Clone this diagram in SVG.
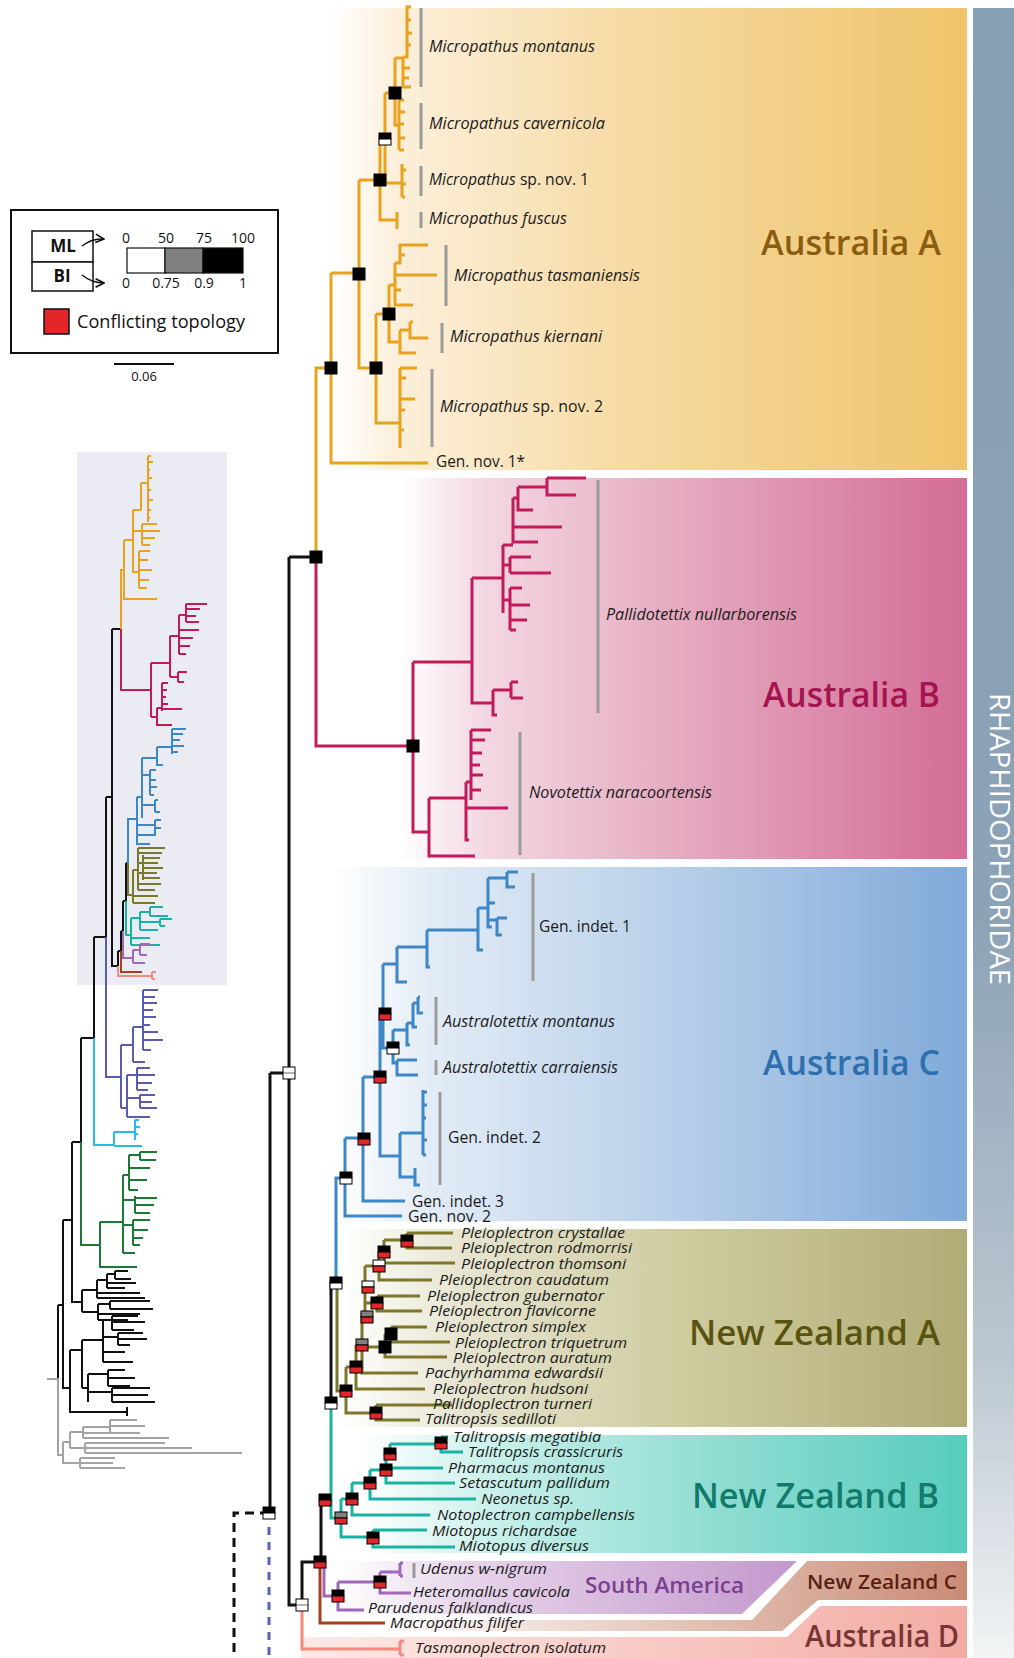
<svg xmlns="http://www.w3.org/2000/svg" xmlns:xlink="http://www.w3.org/1999/xlink" width="1014" height="1658" viewBox="0 0 1014 1658">
<defs>
<style>
.sans{font-family:"Open Sans","Liberation Sans",sans-serif}
.sp{font-family:"Open Sans","Liberation Sans",sans-serif;font-style:italic;font-size:17px;fill:#1a1a1a}
.up{font-style:normal}
.sp2{font-family:"Open Sans","Liberation Sans",sans-serif;font-style:italic;font-size:15px;fill:#1a1a1a}
.sp3{font-family:"Open Sans","Liberation Sans",sans-serif;font-style:italic;font-size:14.5px;fill:#1a1a1a}
.gn{font-family:"Open Sans","Liberation Sans",sans-serif;font-size:16.5px;fill:#1a1a1a}
.reg{font-family:"Open Sans","Liberation Sans",sans-serif;font-weight:600;font-size:35px}
.reg.sm1{font-size:22px}.reg.sm2{font-size:20px}.reg.sm3{font-size:30px}
.main path{fill:none;stroke-width:3;stroke-linejoin:miter}
.mini path{fill:none;stroke-width:2;stroke-linejoin:miter}
.o{stroke:#e9a21d}.m{stroke:#c11b5c}.c{stroke:#3d86c8}.ol{stroke:#7b782a}.t{stroke:#19b3a3}
.p{stroke:#a068b8}.bn{stroke:#a3421c}.s{stroke:#f28a80}.k{stroke:#111}.sl{stroke:#5b5cae}
.cy{stroke:#2bb8ea}.gr{stroke:#1c7a36}.gy{stroke:#a3a3a3}
.bar{stroke:#9a9a9a;stroke-width:3}
</style>
<linearGradient id="gA" x1="0" x2="1" y1="0" y2="0"><stop offset="0" stop-color="#ffffff"/><stop offset="0.1" stop-color="#fcf0dc"/><stop offset="0.45" stop-color="#f6dba6"/><stop offset="1" stop-color="#efc46a"/></linearGradient>
<linearGradient id="gB" x1="0" x2="1" y1="0" y2="0"><stop offset="0" stop-color="#ffffff"/><stop offset="0.15" stop-color="#f3d7e2"/><stop offset="0.5" stop-color="#e5a9c0"/><stop offset="1" stop-color="#d36d96"/></linearGradient>
<linearGradient id="gC" x1="0" x2="1" y1="0" y2="0"><stop offset="0" stop-color="#ffffff"/><stop offset="0.15" stop-color="#e3ecf6"/><stop offset="0.5" stop-color="#bcd2ea"/><stop offset="1" stop-color="#80aad9"/></linearGradient>
<linearGradient id="gNA" x1="0" x2="1" y1="0" y2="0"><stop offset="0" stop-color="#ffffff"/><stop offset="0.2" stop-color="#e6e4cf"/><stop offset="0.55" stop-color="#cecb9f"/><stop offset="1" stop-color="#b1ac76"/></linearGradient>
<linearGradient id="gNB" x1="0" x2="1" y1="0" y2="0"><stop offset="0" stop-color="#ffffff"/><stop offset="0.25" stop-color="#c3eee8"/><stop offset="0.6" stop-color="#8edcd1"/><stop offset="1" stop-color="#57ccbd"/></linearGradient>
<linearGradient id="gSA" x1="0" x2="1" y1="0" y2="0"><stop offset="0" stop-color="#ffffff"/><stop offset="0.3" stop-color="#e6d3ea"/><stop offset="1" stop-color="#c398cc"/></linearGradient>
<linearGradient id="gNC" x1="0" x2="1" y1="0" y2="0"><stop offset="0" stop-color="#ffffff"/><stop offset="0.4" stop-color="#ead2c9"/><stop offset="1" stop-color="#c98b76"/></linearGradient>
<linearGradient id="gD" x1="0" x2="1" y1="0" y2="0"><stop offset="0" stop-color="#fde9e6"/><stop offset="0.5" stop-color="#f8cbc5"/><stop offset="1" stop-color="#f2aca4"/></linearGradient>
<linearGradient id="gR" x1="0" x2="0" y1="0" y2="1"><stop offset="0" stop-color="#879fb5"/><stop offset="0.55" stop-color="#8ca2b6"/><stop offset="0.82" stop-color="#bcc7d1"/><stop offset="1" stop-color="#f2f4f5"/></linearGradient>
<g id="nB"><rect x="-6" y="-6" width="12" height="12" fill="#000" stroke="#000" stroke-width="1"/></g>
<g id="nBW"><rect x="-6" y="-6" width="12" height="6" fill="#000" stroke="#000" stroke-width="1"/><rect x="-6" y="0" width="12" height="6" fill="#fff" stroke="#000" stroke-width="1"/></g>
<g id="nBR"><rect x="-6" y="-6" width="12" height="6" fill="#000" stroke="#000" stroke-width="1"/><rect x="-6" y="0" width="12" height="6" fill="#e3262a" stroke="#000" stroke-width="1"/></g>
<g id="nGR"><rect x="-6" y="-6" width="12" height="6" fill="#808080" stroke="#000" stroke-width="1"/><rect x="-6" y="0" width="12" height="6" fill="#e3262a" stroke="#000" stroke-width="1"/></g>
<g id="nWR"><rect x="-6" y="-6" width="12" height="6" fill="#fff" stroke="#000" stroke-width="1"/><rect x="-6" y="0" width="12" height="6" fill="#e3262a" stroke="#000" stroke-width="1"/></g>
<g id="nWW"><rect x="-6" y="-6" width="12" height="12" fill="#fff" stroke="#000" stroke-width="1"/><line x1="-6" y1="0" x2="6" y2="0" stroke="#000" stroke-width="0.6"/></g>
<marker id="arr" viewBox="0 0 10 10" refX="9" refY="5" markerWidth="7" markerHeight="7" orient="auto"><path d="M1,1 L9,5 L1,9" fill="none" stroke="#111" stroke-width="1.6"/></marker>
</defs>
<rect width="1014" height="1658" fill="#fff"/>

<g id="panels">
<rect x="330" y="8" width="637" height="462" fill="url(#gA)"/>
<rect x="400" y="478" width="567" height="381" fill="url(#gB)"/>
<rect x="333" y="867" width="634" height="354" fill="url(#gC)"/>
<rect x="340" y="1229" width="627" height="198" fill="url(#gNA)"/>
<rect x="360" y="1435" width="607" height="118" fill="url(#gNB)"/>
<polygon points="336,1561 797,1561 742,1614 336,1614" fill="url(#gSA)"/>
<polygon points="807,1561 967,1561 967,1600 818,1600 782,1631 372,1631 372,1620 752,1620" fill="url(#gNC)"/>
<polygon points="301,1637 787,1637 820,1606 967,1606 967,1658 301,1658" fill="url(#gD)"/>
<rect x="973" y="8" width="41" height="1650" fill="url(#gR)"/>
<text class="sans" transform="translate(990,693) rotate(90)" font-size="27" fill="#fff" textLength="292" lengthAdjust="spacingAndGlyphs">RHAPHIDOPHORIDAE</text>
</g>

<g id="legend">
<rect x="11" y="210" width="267" height="143" fill="#fff" stroke="#111" stroke-width="2"/>
<rect x="32" y="231" width="61" height="31" fill="#fff" stroke="#111" stroke-width="1.5"/>
<rect x="32" y="262" width="61" height="29" fill="#fff" stroke="#111" stroke-width="1.5"/>
<text class="sans" x="63" y="252" font-size="17" font-weight="700" text-anchor="middle" fill="#111">ML</text>
<text class="sans" x="62" y="282" font-size="17" font-weight="700" text-anchor="middle" fill="#111">BI</text>
<path d="M82,246 Q92,238 104,239" fill="none" stroke="#111" stroke-width="1.5" marker-end="url(#arr)"/>
<path d="M82,275 Q92,283 104,283" fill="none" stroke="#111" stroke-width="1.5" marker-end="url(#arr)"/>
<g class="sans" font-size="14" fill="#111" text-anchor="middle">
<text x="126" y="243">0</text><text x="166" y="243">50</text><text x="204" y="243">75</text><text x="243" y="243">100</text>
<text x="126" y="288">0</text><text x="166" y="288">0.75</text><text x="204" y="288">0.9</text><text x="243" y="288">1</text>
</g>
<rect x="127" y="248" width="38" height="25" fill="#fff" stroke="#111" stroke-width="1.2"/>
<rect x="165" y="248" width="38" height="25" fill="#808080" stroke="#111" stroke-width="1.2"/>
<rect x="203" y="248" width="40" height="25" fill="#000" stroke="#111" stroke-width="1.2"/>
<rect x="44" y="309" width="25" height="25" fill="#e3262a" stroke="#111" stroke-width="1.5"/>
<text class="sans" x="77" y="328" font-size="18" fill="#111" textLength="168" lengthAdjust="spacingAndGlyphs">Conflicting topology</text>
<line x1="114" y1="364" x2="174" y2="364" stroke="#111" stroke-width="2"/>
<text class="sans" x="144" y="381" font-size="13" text-anchor="middle" fill="#111">0.06</text>
</g>

<g id="inset">
<rect x="77" y="452" width="150" height="533" fill="#ebebf4"/>
<g class="mini">
<path class="k" d="M112,629 H121 M112,629 V966 H118 M106,797 H112 M106,797 V937 H94 M94,937 V1038 H81 M81,1038 V1142 H72 M72,1142 V1302 H82 M72,1220 H63 M63,1220 V1388 H70 M70,1350 V1412 H127 M127,1407 V1416 M58,1305 H63 M58,1305 V1378 M118,951 V966 M118,951 H121 M121,931 V951 M121,931 H123 M123,901 V931 M123,901 H126 M126,863 V901 M126,863 H128"/>
<path class="k" d="M82,1290 V1312 M82,1290 H97 M97,1280 V1298 M97,1280 H107 M107,1274 V1288 M107,1274 H115 M115,1271 V1279 M115,1271 H128 M115,1279 H131 M107,1283 H136 M107,1288 H125 M97,1293 H140 M97,1298 H145 M82,1312 H98 M98,1304 V1320 M98,1304 H110 M110,1301 V1309 M110,1301 H150 M110,1309 H153 M98,1314 H140 M98,1320 H128"/>
<path class="k" d="M70,1350 H82 M82,1340 V1388 M82,1340 H103 M103,1320 V1362 M103,1320 H112 M112,1316 V1330 M112,1316 H138 M112,1322 H145 M112,1330 H134 M103,1337 H118 M118,1333 V1345 M118,1333 H143 M118,1339 H147 M118,1345 H130 M103,1352 H125 M103,1362 H133 M82,1388 H88 M88,1374 V1402 M88,1374 H108 M108,1370 V1386 M108,1370 H125 M108,1378 H135 M108,1386 H130 M88,1392 H112 M112,1388 V1402 M112,1388 H150 M112,1395 H148 M112,1402 H155"/>
<path class="gy" d="M47,1379 H58 M58,1378 V1455 H63 M63,1442 V1463 H80 M80,1458 V1468 M80,1458 H115 M80,1463 H113 M80,1468 H125 M63,1442 H70 M70,1432 V1448 M70,1432 H83 M83,1427 V1438 M83,1427 H110 M110,1420 V1433 M110,1420 H137 M110,1426 H145 M110,1433 H140 M83,1433 H130 M83,1438 H169 M70,1448 H85 M85,1443 V1453 M85,1443 H165 M85,1448 H192 M85,1453 H242"/>
<path class="o" d="M121,629 V570 H124 M124,540 V599 H157 M124,540 H133 M133,510 V572 H139 M139,551 V588 M139,551 H150 M139,560 H148 M139,570 H152 M139,580 H149 M139,588 H147 M133,531 H142 M142,524 V545 M142,524 H157 M142,531 H160 M142,538 H155 M142,545 H150 M133,510 H141 M141,483 V510 M141,483 H148 M148,456 V522 M148,456 H151 M148,462 H153 M148,470 H150 M148,478 H152 M148,490 H151 M148,500 H153 M148,510 H151 M148,518 H150"/>
<path class="m" d="M121,629 V690 H151 M151,663 V717 M151,663 H170 M170,636 V677 M170,636 H179 M179,615 V654 M179,615 H186 M186,604 V622 M186,604 H207 M186,609 H200 M186,616 H196 M186,622 H199 M179,630 H199 M179,638 H193 M179,646 H190 M179,654 H186 M170,677 H178 M178,672 V682 M178,672 H187 M178,682 H184 M151,717 H157 M157,708 V725 H172 M157,708 H162 M162,683 V711 M162,683 H168 M162,690 H167 M162,697 H166 M162,704 H168 M162,709 H182"/>
<path class="c" d="M128,863 V819 H137 M137,797 V844 H150 M137,797 H142 M142,758 V818 M142,758 H157 M157,747 V765 H163 M157,747 H172 M172,729 V754 M172,729 H186 M172,734 H183 M172,740 H180 M172,746 H184 M172,752 H178 M142,775 H150 M150,770 V795 M150,770 H156 M150,780 H156 M150,787 H157 M150,795 H154 M142,805 H155 M155,800 V812 M155,800 H158 M155,812 H160 M137,825 H155 M155,820 V835 M155,820 H161 M155,828 H161 M137,835 H156"/>
<path class="ol" d="M128,863 V895 H133 M133,870 V903 M133,870 H138 M138,848 V890 M138,848 H165 M138,853 H162 M143,858 H160 M143,855 V880 M138,863 H158 M143,868 H163 M138,873 H157 M143,878 H160 M138,884 H161 M138,890 H155 M133,896 H158 M133,903 H155"/>
<path class="t" d="M126,901 V935 H131 M131,918 V945 M131,918 H140 M140,912 V930 M140,912 H150 M150,907 V916 M150,907 H163 M150,916 H168 M140,922 H160 M160,919 V926 M160,919 H172 M160,926 H165 M140,930 H158 M131,938 H150 M131,945 H160"/>
<path class="p" d="M123,931 V958 H133 M133,950 V963 M133,950 H140 M140,944 V955 M140,944 H150 M140,955 H147 M133,963 H145"/>
<path class="bn" d="M121,951 V972 H142"/>
<path class="s" d="M118,966 V976 H152 M152,972 V979 M152,972 H156 M152,979 H155"/>
<path class="sl" d="M106,937 V1077 H121 M121,1045 V1108 M121,1045 H133 M133,1027 V1062 M133,1027 H143 M143,990 V1050 M143,990 H158 M143,997 H155 M143,1003 H157 M143,1010 H153 M143,1017 H156 M143,1025 H150 M143,1032 H158 M143,1040 H163 M143,1050 H151 M133,1062 H145 M121,1108 H127 M127,1075 V1117 M127,1075 H137 M137,1068 V1090 M137,1068 H150 M137,1075 H155 M137,1083 H152 M137,1090 H148 M127,1098 H140 M140,1095 V1108 M140,1095 H155 M140,1102 H152 M140,1108 H157 M127,1117 H150"/>
<path class="cy" d="M94,1038 V1145 H114 M114,1132 V1146 M114,1132 H135 M135,1120 V1140 M135,1120 H139 M135,1127 H140 M135,1134 H138 M114,1146 H142"/>
<path class="gr" d="M81,1142 V1245 H100 M100,1222 V1267 H137 M100,1222 H123 M123,1175 V1253 M123,1175 H129 M129,1155 V1190 M129,1155 H140 M140,1152 V1160 M140,1152 H157 M140,1160 H156 M129,1168 H150 M129,1180 H147 M129,1190 H138 M123,1200 H135 M135,1196 V1213 M135,1198 H157 M135,1205 H154 M135,1213 H150 M123,1225 H133 M133,1220 V1245 M133,1220 H150 M133,1230 H148 M133,1238 H143 M133,1245 H140 M123,1253 H135"/>
</g>
</g>

<g id="connectors" class="main">
<path class="k" d="M289,557 H316 M289,557 V1605 H302 M270,1073 H289 M270,1073 V1513 M302,1605 V1562 H321 M321,1562 V1500 H331 M331,1403 V1283 H336" stroke-width="3.5"/>
<path d="M269,1513 H234 V1658" stroke="#111" stroke-dasharray="9 6"/>
<path d="M269,1527 V1658" stroke="#5a60b8" stroke-width="2.5" stroke-dasharray="8 7"/>
<path class="o" d="M316,557 V368 H331 M331,273 V463 H428 M331,273 H359 M359,180 V368 H376 M359,180 H380 M380,140 V220 H397 M397,212 V229 M380,140 H385 M385,93 V183 H402 M402,164 V197 M402,170 H406 M402,184 H406 M402,197 H405 M385,93 H395 M395,58 V125 H399 M399,100 V150 M399,100 H404 M399,112 H405 M399,124 H404 M399,138 H405 M399,150 H404 M395,58 H403 M403,57 V87 H411 M403,57 H407 V7 H411 M407,20 H411 M407,33 H412 M407,45 H411 M403,68 H410 M403,78 H409 M376,314 V423 H400 M376,314 H389 M389,285 V342 H400 M389,285 H395 M395,263 V305 H413 M395,263 H400 V245 H428 M400,255 H405 M395,275 H437 M395,290 H401 M400,330 V353 H416 M400,330 H410 M410,322 V338 H428 M410,322 H413 M400,368 V448 M400,368 H417 M400,378 H406 M400,399 H415 M400,410 H405 M400,430 H404"/>
<path class="m" d="M316,557 V746 H413 M413,662 V832 H429 M413,662 H472 M472,578 V703 H493 M472,578 H503 M503,545 V613 M503,545 H513 M513,498 V542 H538 M513,527 H562 M513,498 H518 M518,487 V510 H533 M518,487 H547 M547,478 V495 H576 M547,478 H586 M503,565 H510 M510,557 V573 M510,557 H531 M510,573 H551 M503,600 H510 M510,588 V630 M510,588 H522 M510,605 H530 M510,620 H527 M510,630 H516 M493,690 V715 H497 M493,690 H511 M511,682 V698 M511,682 H518 M511,698 H523 M429,798 V856 H475 M429,798 H466 M466,782 V840 H469 M466,808 H508 M466,782 H471 M471,730 V800 M471,730 H491 M471,740 H485 M471,753 H482 M471,765 H480 M471,775 H483 M471,790 H481"/>
<path class="c" d="M336,1283 V1178 H345 M345,1138 V1216 H402 M345,1138 H363 M363,1077 V1201 H405 M363,1077 H380 M380,1014 V1156 H400 M380,1014 H383 M383,964 V1048 H393 M383,964 H397 M393,1030 V1063 H397 M397,1060 V1075 H418 M397,1060 H417 M393,1030 H407 M407,1023 V1045 H410 M407,1023 H413 M413,1003 V1027 H417 M413,1003 H418 M418,997 V1013 H423 M418,997 H420 M400,1133 V1177 H415 M415,1168 V1185 H420 M400,1133 H423 M423,1090 V1155 M423,1092 H427 M423,1105 H427 M423,1118 H426 M423,1140 H427 M423,1155 H426 M397,947 V982 H407 M397,947 H427 M427,930 V967 H430 M427,930 H478 M478,908 V950 H483 M478,908 H488 M488,878 V927 H492 M488,903 H495 M488,920 H497 M497,918 V935 H502 M497,918 H507 M488,878 H507 M507,872 V887 H515 M507,872 H518"/>
<path class="ol" d="M337,1283 V1391 H346 M346,1367 V1413 H376 M376,1405 V1420 H420 M376,1405 H452 M346,1367 H356 M356,1345 V1389 H425 M356,1345 H362 M362,1313 V1373 H418 M362,1347 H385 M385,1334 V1357 H447 M385,1334 H391 M391,1327 V1342 H450 M391,1327 H427 M362,1313 H365 M365,1266 V1317 M365,1303 H377 M377,1296 V1311 H422 M377,1296 H420 M365,1266 H379 M379,1253 V1280 H432 M379,1253 H384 M384,1240 V1263 H455 M384,1240 H407 M407,1233 V1248 H452 M407,1233 H453"/>
<path class="t" d="M331,1403 V1518 H341 M341,1499 V1537 H373 M373,1530 V1547 H455 M373,1530 H427 M341,1499 H352 M352,1483 V1515 H430 M352,1483 H370 M370,1470 V1499 H476 M370,1470 H386 M386,1454 V1483 H455 M386,1468 H443 M386,1454 H390 M390,1444 V1456 M390,1444 H441 M441,1437 V1452 H463 M441,1437 H448"/>
<path class="bn" d="M320,1562 V1623 H385"/>
<path class="p" d="M324,1563 V1596 H338 M338,1582 V1610 H364 M338,1582 H380 M380,1572 V1593 H411 M380,1572 H400 M400,1563 V1576 M400,1563 H403 M400,1576 H403"/>
<path class="s" d="M302,1605 V1649 H400 M400,1641 V1655 M400,1641 H404 M400,1655 H404"/>
</g>

<g id="bars">
<line class="bar" x1="421" y1="8" x2="421" y2="87"/>
<line class="bar" x1="421" y1="103" x2="421" y2="149"/>
<line class="bar" x1="421" y1="166" x2="421" y2="196"/>
<line class="bar" x1="421" y1="212" x2="421" y2="228"/>
<line class="bar" x1="446" y1="245" x2="446" y2="306"/>
<line class="bar" x1="442" y1="323" x2="442" y2="353"/>
<line class="bar" x1="432" y1="369" x2="432" y2="447"/>
<line class="bar" x1="598" y1="480" x2="598" y2="713"/>
<line class="bar" x1="520" y1="732" x2="520" y2="855"/>
<line class="bar" x1="533" y1="873" x2="533" y2="981"/>
<line class="bar" x1="436" y1="997" x2="436" y2="1045"/>
<line class="bar" x1="436" y1="1060" x2="436" y2="1075"/>
<line class="bar" x1="440" y1="1092" x2="440" y2="1185"/>
<line class="bar" x1="414" y1="1563" x2="414" y2="1578"/>
</g>

<g id="nodes">
<use href="#nB" x="316" y="557"/><use href="#nB" x="331" y="368"/><use href="#nB" x="359" y="274"/><use href="#nB" x="380" y="180"/>
<use href="#nBW" x="385" y="139"/><use href="#nB" x="395" y="93"/><use href="#nB" x="376" y="368"/><use href="#nB" x="389" y="314"/>
<use href="#nB" x="413" y="746"/>
<use href="#nBW" x="346" y="1178"/><use href="#nBR" x="364" y="1139"/><use href="#nBR" x="380" y="1077"/><use href="#nBR" x="385" y="1014"/><use href="#nBW" x="393" y="1048"/>
<use href="#nBW" x="336" y="1283"/><use href="#nBW" x="331" y="1403"/>
<use href="#nBR" x="346" y="1391"/><use href="#nBR" x="376" y="1413"/><use href="#nBR" x="356" y="1367"/><use href="#nGR" x="362" y="1345"/>
<use href="#nB" x="385" y="1347"/><use href="#nB" x="391" y="1334"/><use href="#nGR" x="367" y="1317"/><use href="#nBR" x="377" y="1303"/>
<use href="#nWR" x="368" y="1287"/><use href="#nWR" x="379" y="1266"/><use href="#nBR" x="384" y="1252"/><use href="#nBR" x="407" y="1241"/>
<use href="#nGR" x="341" y="1518"/><use href="#nBR" x="373" y="1538"/><use href="#nBR" x="352" y="1499"/><use href="#nBR" x="370" y="1483"/>
<use href="#nBR" x="386" y="1470"/><use href="#nBR" x="390" y="1454"/><use href="#nBR" x="441" y="1443"/>
<use href="#nBR" x="325" y="1500"/><use href="#nBR" x="320" y="1562"/><use href="#nBR" x="338" y="1596"/><use href="#nBR" x="380" y="1582"/>
<use href="#nWW" x="289" y="1073"/><use href="#nBW" x="269" y="1513"/><use href="#nWW" x="302" y="1605"/>
</g>

<g id="labels">
<text class="sp" x="429" y="52" textLength="166" lengthAdjust="spacingAndGlyphs">Micropathus montanus</text>
<text class="sp" x="429" y="129" textLength="176" lengthAdjust="spacingAndGlyphs">Micropathus cavernicola</text>
<text class="sp" x="429" y="185" textLength="160" lengthAdjust="spacingAndGlyphs">Micropathus<tspan class="up"> sp. nov. 1</tspan></text>
<text class="sp" x="429" y="224" textLength="138" lengthAdjust="spacingAndGlyphs">Micropathus fuscus</text>
<text class="sp" x="454" y="281" textLength="186" lengthAdjust="spacingAndGlyphs">Micropathus tasmaniensis</text>
<text class="sp" x="450" y="342" textLength="152" lengthAdjust="spacingAndGlyphs">Micropathus kiernani</text>
<text class="sp" x="440" y="412" textLength="163" lengthAdjust="spacingAndGlyphs">Micropathus<tspan class="up"> sp. nov. 2</tspan></text>
<text class="gn" x="436" y="467" textLength="89" lengthAdjust="spacingAndGlyphs">Gen. nov. 1*</text>
<text class="sp" x="606" y="620" textLength="191" lengthAdjust="spacingAndGlyphs">Pallidotettix nullarborensis</text>
<text class="sp" x="529" y="798" textLength="183" lengthAdjust="spacingAndGlyphs">Novotettix naracoortensis</text>
<text class="gn" x="539" y="932" textLength="92" lengthAdjust="spacingAndGlyphs">Gen. indet. 1</text>
<text class="sp" x="443" y="1027" textLength="172" lengthAdjust="spacingAndGlyphs">Australotettix montanus</text>
<text class="sp" x="443" y="1073" textLength="175" lengthAdjust="spacingAndGlyphs">Australotettix carraiensis</text>
<text class="gn" x="448" y="1143" textLength="93" lengthAdjust="spacingAndGlyphs">Gen. indet. 2</text>
<text class="gn" x="412" y="1207" textLength="92" lengthAdjust="spacingAndGlyphs">Gen. indet. 3</text>
<text class="gn" x="408" y="1222" textLength="83" lengthAdjust="spacingAndGlyphs">Gen. nov. 2</text>
<text class="sp2" x="461" y="1238" textLength="164" lengthAdjust="spacingAndGlyphs">Pleioplectron crystallae</text>
<text class="sp2" x="461" y="1253" textLength="171" lengthAdjust="spacingAndGlyphs">Pleioplectron rodmorrisi</text>
<text class="sp2" x="461" y="1269" textLength="165" lengthAdjust="spacingAndGlyphs">Pleioplectron thomsoni</text>
<text class="sp2" x="439" y="1285" textLength="170" lengthAdjust="spacingAndGlyphs">Pleioplectron caudatum</text>
<text class="sp2" x="427" y="1301" textLength="177" lengthAdjust="spacingAndGlyphs">Pleioplectron gubernator</text>
<text class="sp2" x="429" y="1316" textLength="167" lengthAdjust="spacingAndGlyphs">Pleioplectron flavicorne</text>
<text class="sp2" x="435" y="1332" textLength="151" lengthAdjust="spacingAndGlyphs">Pleioplectron simplex</text>
<text class="sp2" x="455" y="1348" textLength="172" lengthAdjust="spacingAndGlyphs">Pleioplectron triquetrum</text>
<text class="sp2" x="453" y="1363" textLength="159" lengthAdjust="spacingAndGlyphs">Pleioplectron auratum</text>
<text class="sp2" x="425" y="1378" textLength="178" lengthAdjust="spacingAndGlyphs">Pachyrhamma edwardsii</text>
<text class="sp2" x="433" y="1394" textLength="155" lengthAdjust="spacingAndGlyphs">Pleioplectron hudsoni</text>
<text class="sp2" x="433" y="1409" textLength="159" lengthAdjust="spacingAndGlyphs">Pallidoplectron turneri</text>
<text class="sp2" x="425" y="1424" textLength="131" lengthAdjust="spacingAndGlyphs">Talitropsis sedilloti</text>
<text class="sp3" x="453" y="1442" textLength="148" lengthAdjust="spacingAndGlyphs">Talitropsis megatibia</text>
<text class="sp3" x="468" y="1457" textLength="155" lengthAdjust="spacingAndGlyphs">Talitropsis crassicruris</text>
<text class="sp3" x="448" y="1473" textLength="157" lengthAdjust="spacingAndGlyphs">Pharmacus montanus</text>
<text class="sp3" x="459" y="1488" textLength="151" lengthAdjust="spacingAndGlyphs">Setascutum pallidum</text>
<text class="sp3" x="481" y="1504" textLength="93" lengthAdjust="spacingAndGlyphs">Neonetus sp.</text>
<text class="sp3" x="437" y="1520" textLength="198" lengthAdjust="spacingAndGlyphs">Notoplectron campbellensis</text>
<text class="sp3" x="432" y="1536" textLength="145" lengthAdjust="spacingAndGlyphs">Miotopus richardsae</text>
<text class="sp3" x="459" y="1551" textLength="130" lengthAdjust="spacingAndGlyphs">Miotopus diversus</text>
<text class="sp3" x="420" y="1574" textLength="127" lengthAdjust="spacingAndGlyphs">Udenus w-nigrum</text>
<text class="sp3" x="413" y="1597" textLength="157" lengthAdjust="spacingAndGlyphs">Heteromallus cavicola</text>
<text class="sp3" x="368" y="1613" textLength="165" lengthAdjust="spacingAndGlyphs">Parudenus falklandicus</text>
<text class="sp3" x="390" y="1628" textLength="134" lengthAdjust="spacingAndGlyphs">Macropathus filifer</text>
<text class="sp3" x="415" y="1653" textLength="191" lengthAdjust="spacingAndGlyphs">Tasmanoplectron isolatum</text>
</g>

<g id="regions">
<text class="reg" x="761" y="255" fill="#8c5c10" textLength="180" lengthAdjust="spacingAndGlyphs">Australia A</text>
<text class="reg" x="763" y="707" fill="#a5144f" textLength="177" lengthAdjust="spacingAndGlyphs">Australia B</text>
<text class="reg" x="763" y="1075" fill="#2e6fae" textLength="177" lengthAdjust="spacingAndGlyphs">Australia C</text>
<text class="reg" x="689" y="1345" fill="#58540f" textLength="251" lengthAdjust="spacingAndGlyphs">New Zealand A</text>
<text class="reg" x="692" y="1508" fill="#127a6b" textLength="247" lengthAdjust="spacingAndGlyphs">New Zealand B</text>
<text class="reg sm1" x="585" y="1593" fill="#7b3f90" textLength="159" lengthAdjust="spacingAndGlyphs">South America</text>
<text class="reg sm2" x="807" y="1589" fill="#5a1e10" textLength="150" lengthAdjust="spacingAndGlyphs">New Zealand C</text>
<text class="reg sm3" x="805" y="1647" fill="#7a3535" textLength="154" lengthAdjust="spacingAndGlyphs">Australia D</text>
</g>
</svg>
